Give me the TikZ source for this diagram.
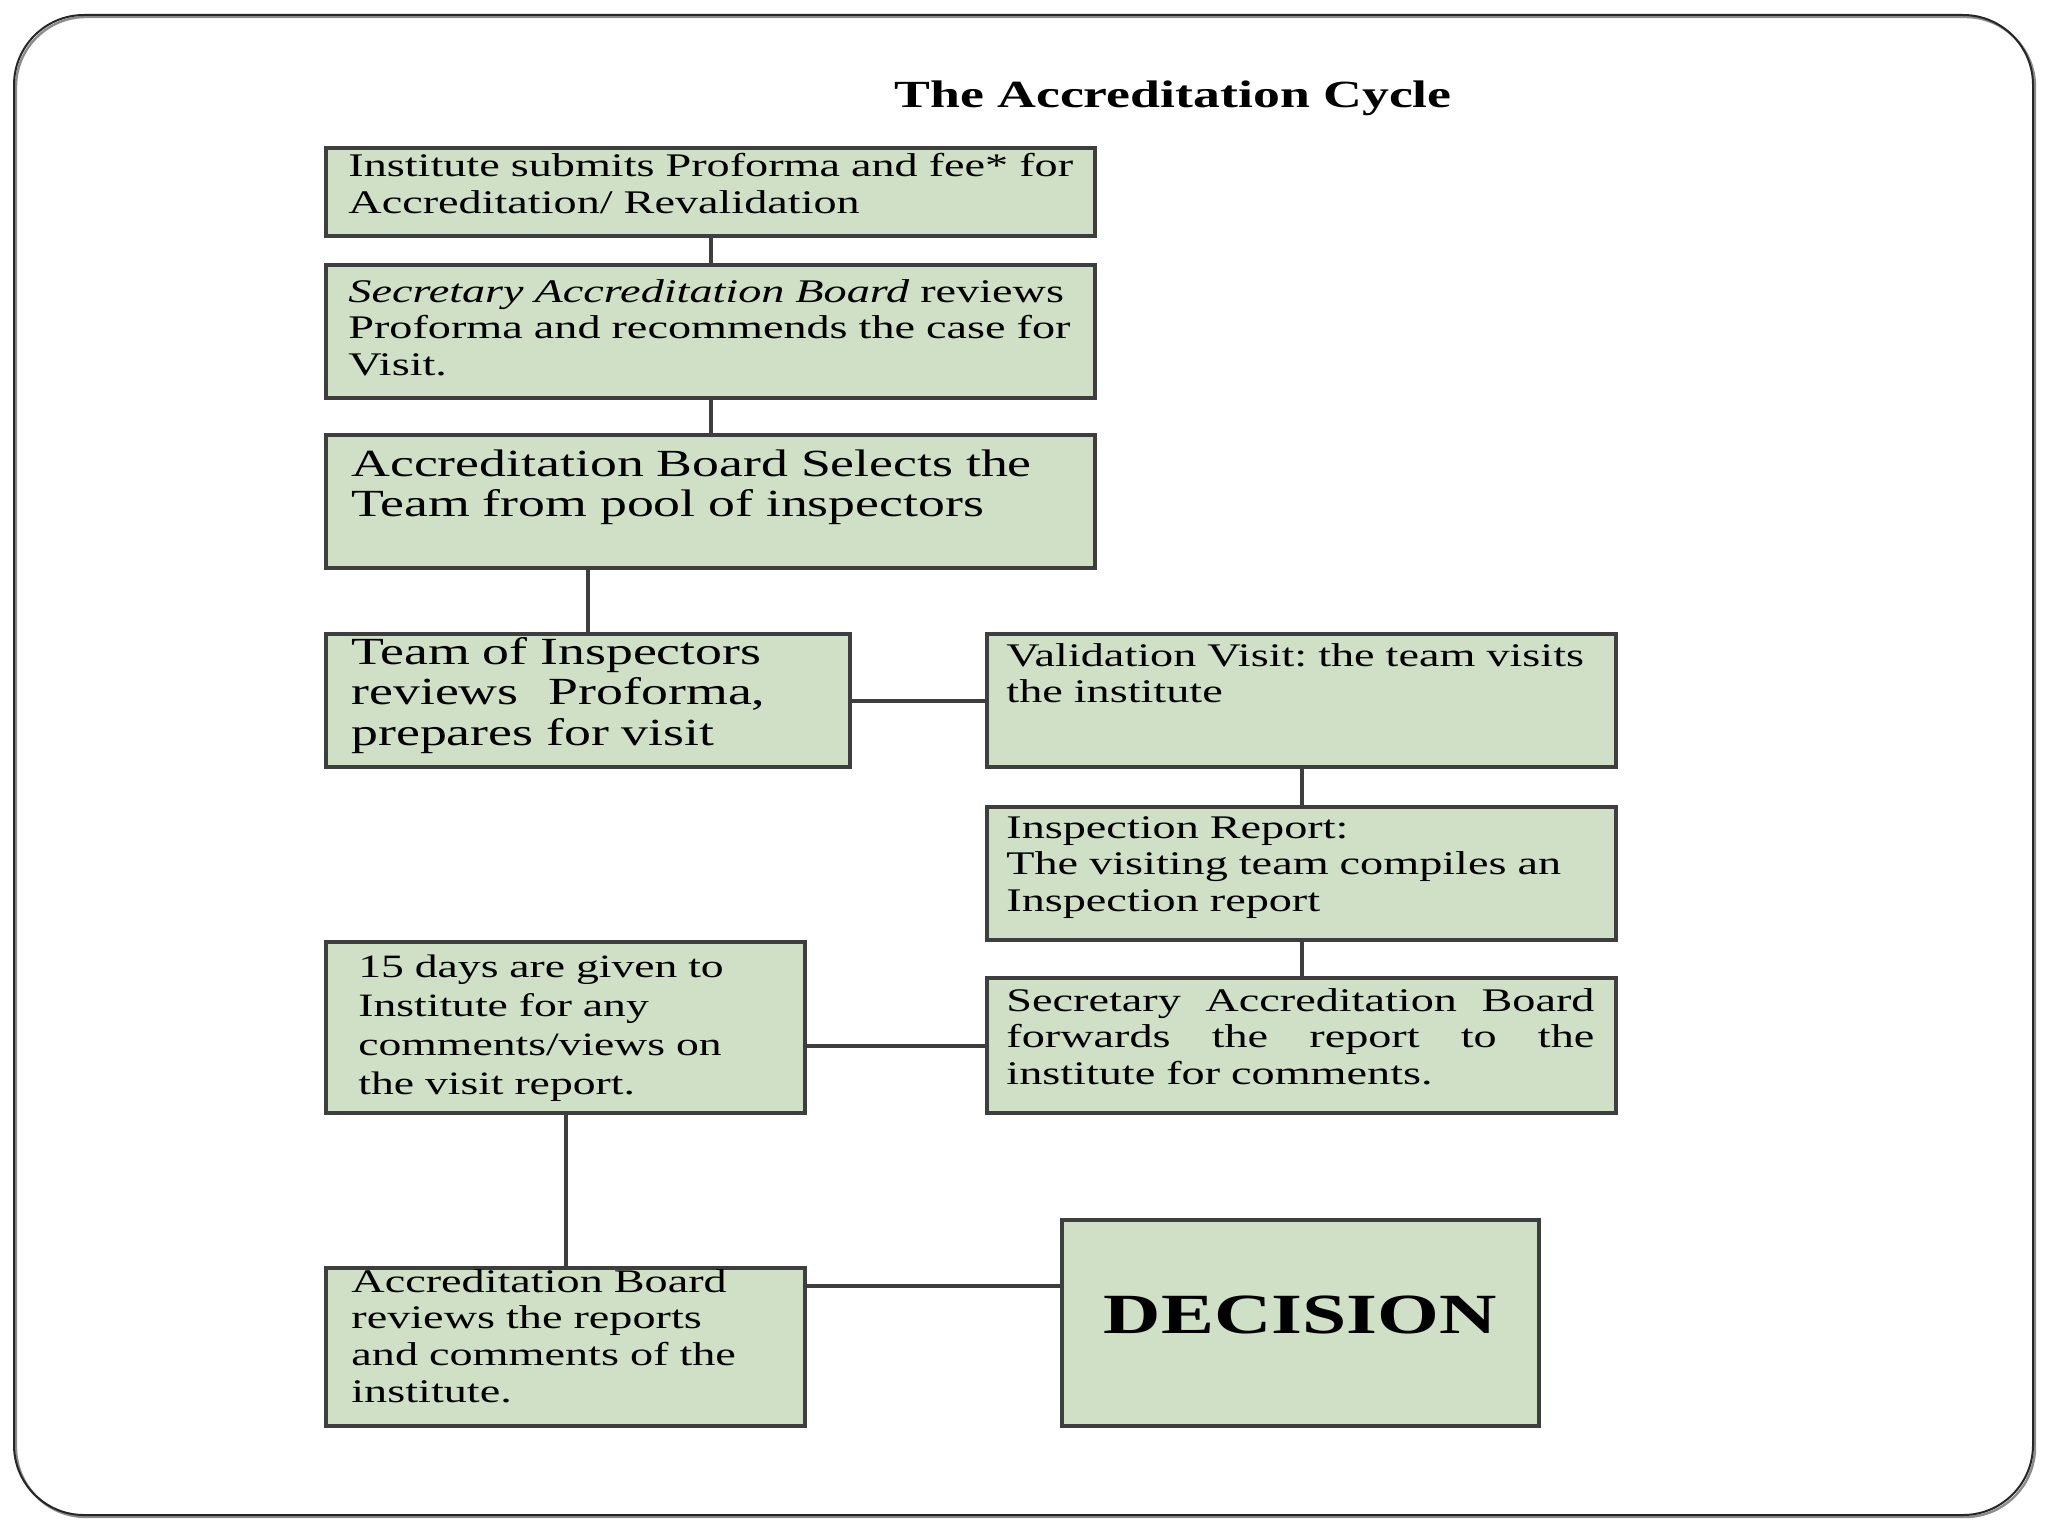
\documentclass[tikz,border=0pt]{standalone}
\usepackage{fontspec}
\setmainfont{Liberation Serif}[FakeStretch=1.4]
\usetikzlibrary{fit}
\definecolor{boxfill}{RGB}{207,224,198}
\definecolor{boxline}{RGB}{62,62,62}
\frenchspacing
\begin{document}
\begin{tikzpicture}[x=0.5pt,y=-0.5pt,
    box/.style={draw=boxline, line width=2pt, fill=boxfill, inner sep=0pt},
    txt/.style={anchor=north west, inner sep=0pt, align=left, text width=#1,
      font=\fontsize{16.5}{18.3}\selectfont},
    txt/.default=400pt,
    bigtxt/.style={txt=#1, font=\fontsize{19.2}{20.2}\selectfont},
    bigtxt/.default=400pt,
    link/.style={draw=boxline, line width=2pt}]
  \useasboundingbox (0,0) rectangle (2048,1536);
  % slide frame
  \draw[black!45, line width=1.2pt, rounded corners=35pt] (16,17) rectangle (2035,1517);
  \draw[black!85, line width=1pt, rounded corners=35pt] (14,15) rectangle (2033,1515);
  \node[anchor=base, font=\fontsize{19.2}{22}\selectfont\bfseries] (title) at (1173,107) {The Accreditation Cycle};
  % boxes
  \node[box, fit={(326,148) (1095,236)}] (submit) {};
  \node[box, fit={(326,265) (1095,398)}] (secy) {};
  \node[box, fit={(326,435) (1095,568)}] (select) {};
  \node[box, fit={(326,634) (850,767)}] (team) {};
  \node[box, fit={(987,634) (1616,767)}] (visit) {};
  \node[box, fit={(987,807) (1616,940)}] (report) {};
  \node[box, fit={(987,978) (1616,1113)}] (forward) {};
  \node[box, fit={(326,942) (805,1113)}] (days) {};
  \node[box, fit={(326,1268) (805,1426)}] (review) {};
  \node[box, fit={(1062,1220) (1539,1426)}] (decision) {};
  % texts
  \node[txt] (submittext) at ([shift={(24,7)}]submit.north west)
    {Institute submits Proforma and fee* for\\Accreditation/ Revalidation};
  \node[txt] (secytext) at ([shift={(24,16)}]secy.north west)
    {\textit{Secretary Accreditation Board} reviews\\Proforma and recommends the case for\\Visit.};
  \node[bigtxt] (selecttext) at ([shift={(27,16)}]select.north west)
    {Accreditation Board Selects the\\Team from pool of inspectors};
  \node[bigtxt] (teamtext) at ([shift={(27,5)}]team.north west)
    {Team of Inspectors\\\makebox[207pt][l]{reviews\hfill Proforma,}\\prepares for visit};
  \node[txt] (visittext) at ([shift={(21,11)}]visit.north west)
    {Validation Visit: the team visits\\the institute};
  \node[txt] (reporttext) at ([shift={(21,11)}]report.north west)
    {Inspection Report:\\The visiting team compiles an\\Inspection report};
  \node[txt] (forwardtext) at ([shift={(21,12)}]forward.north west)
    {\makebox[294pt][l]{Secretary\hfill Accreditation\hfill Board}\\
     \makebox[294pt][l]{forwards\hfill the\hfill report\hfill to\hfill the}\\
     institute for comments.};
  \node[txt, font=\fontsize{16.3}{19.6}\selectfont] (daystext) at ([shift={(34,14)}]days.north west)
    {15 days are given to\\Institute for any\\comments/views on\\the visit report.};
  \node[txt] (reviewtext) at ([shift={(27,3)}]review.north west)
    {Accreditation Board\\reviews the reports\\and comments of the\\institute.};
  \node[font=\fontsize{28.4}{30}\selectfont\bfseries] (decisiontext) at ([shift={(0,-8)}]decision.center) {DECISION};
  % links
  \draw[link] (submit) -- (secy);
  \draw[link] (secy) -- (select);
  \draw[link] (team.north) -- (team.north |- select.south);
  \draw[link] (team) -- (visit);
  \draw[link] (visit) -- (report);
  \draw[link] (report) -- (forward);
  \draw[link] (forward.west) -- (forward.west -| days.east);
  \draw[link] (days) -- (review);
  \draw[link] ([yshift=-10pt]review.north east) -- ([yshift=-10pt]review.north east -| decision.west);
\end{tikzpicture}
\end{document}
